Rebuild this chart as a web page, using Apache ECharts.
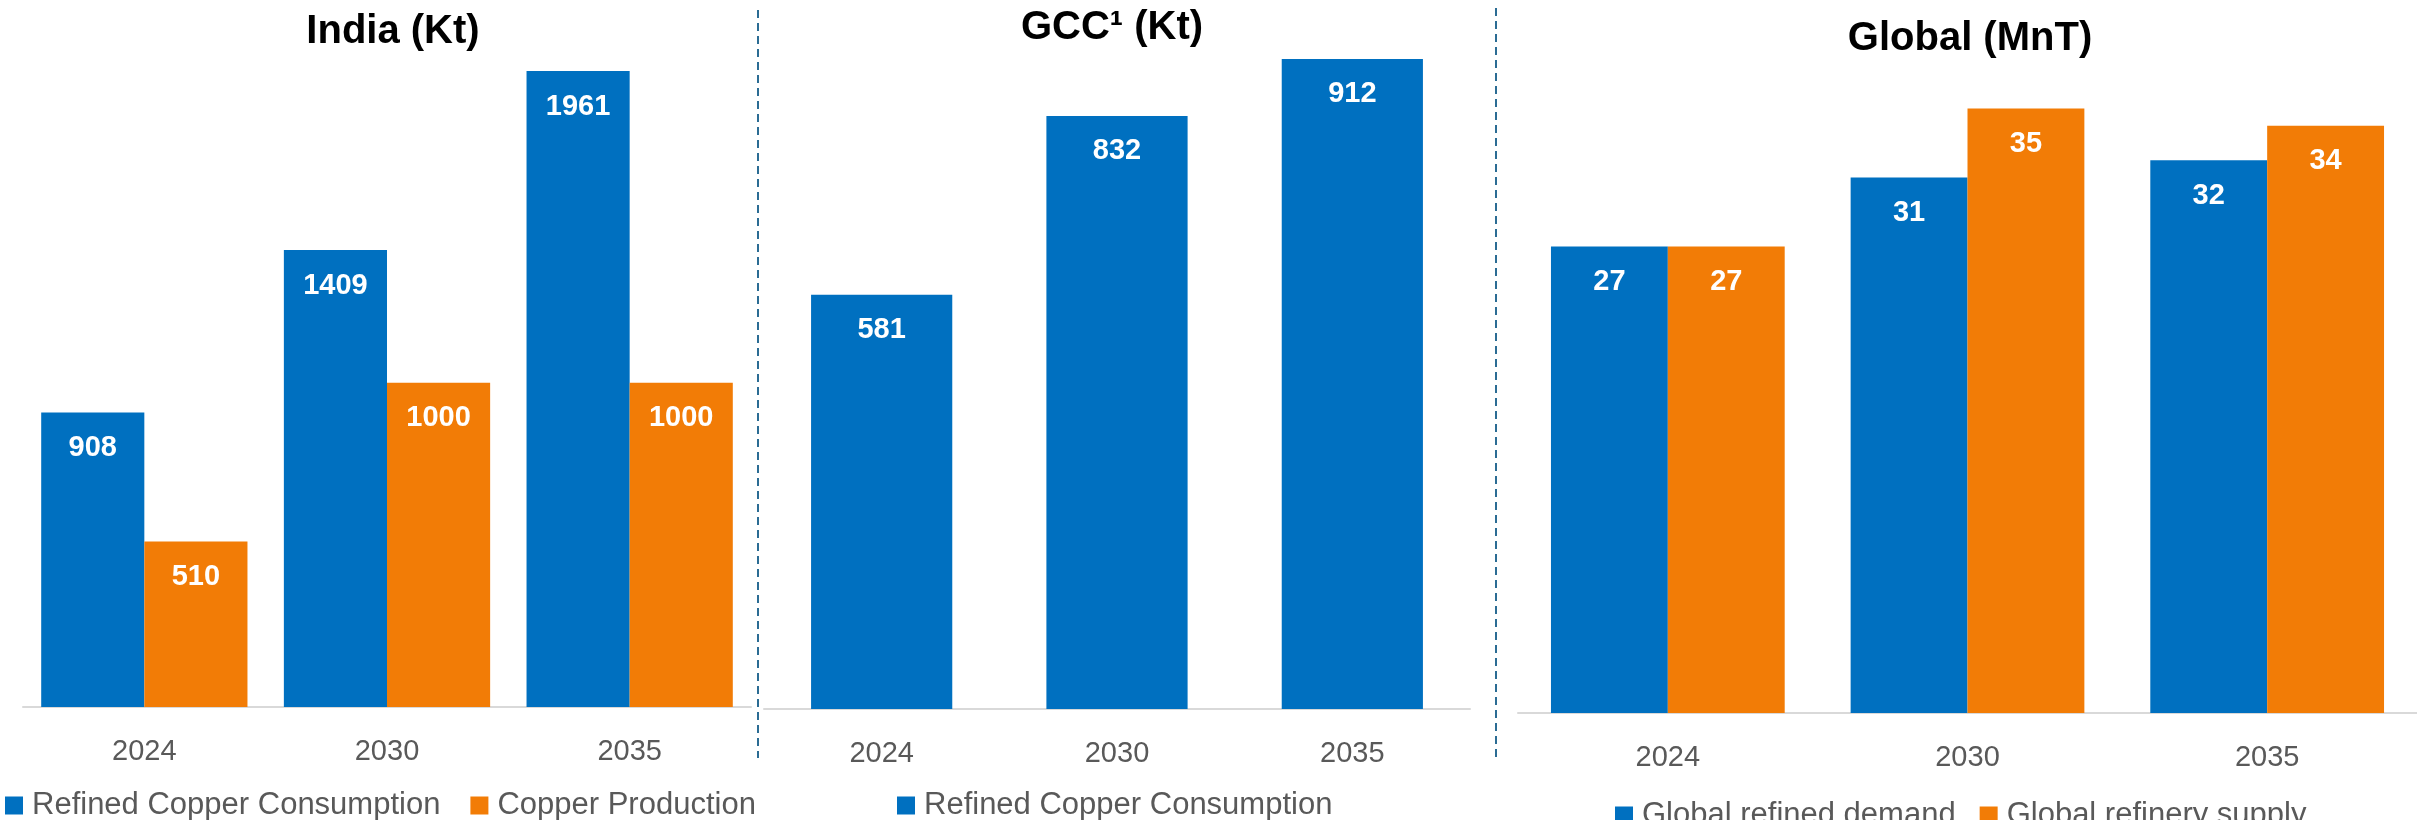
<!DOCTYPE html>
<html>
<head>
<meta charset="utf-8">
<title>Copper demand and supply outlook</title>
<script src="https://cdn.jsdelivr.net/npm/echarts@6/dist/echarts.min.js"></script>
<style>
  html, body { margin: 0; padding: 0; background: #ffffff; }
  #chart { width: 2417px; height: 820px; }
</style>
</head>
<body>
<div id="chart"></div>
<script>
// Years shown on every panel
const years = ['2024', '2030', '2035'];

// India (Kt)
const indiaConsumption = [908, 1409, 1961];
const indiaProduction = [510, 1000, 1000];

// GCC (Kt)
const gccConsumption = [581, 832, 912];

// Global (MnT)
const globalDemand = [27, 31, 32];
const globalSupply = [27, 35, 34];

const BLUE = '#0070C0';
const ORANGE = '#F27C06';
const GREY_TEXT = '#595959';
const FONT = '"Liberation Sans", Arial, sans-serif';

const valueLabel = {
  show: true,
  position: 'insideTop',
  distance: 21,
  color: '#ffffff',
  fontFamily: FONT,
  fontWeight: 'bold',
  fontSize: 29
};

function categoryAxis(gridIndex, margin) {
  return {
    type: 'category',
    gridIndex: gridIndex,
    data: years,
    axisTick: { show: false },
    axisLine: { show: true, lineStyle: { color: '#D9D9D9', width: 2 } },
    axisLabel: { color: GREY_TEXT, fontFamily: FONT, fontSize: 29, margin: margin }
  };
}

function valueAxis(gridIndex, max) {
  return {
    type: 'value',
    gridIndex: gridIndex,
    min: 0,
    max: max,
    show: false,
    splitLine: { show: false }
  };
}

function legend(items, left, top, gap) {
  return {
    data: items,
    left: left,
    top: top,
    padding: 0,
    itemGap: gap,
    icon: 'rect',
    itemWidth: 18,
    itemHeight: 18,
    textStyle: { color: GREY_TEXT, fontFamily: FONT, fontSize: 31, padding: [0, 0, 0, 4] }
  };
}

function titleAt(text, centerX, top) {
  return {
    text: text,
    left: centerX,
    top: top,
    textAlign: 'center',
    padding: 0,
    textStyle: { fontFamily: FONT, fontWeight: 'bold', fontSize: 40, color: '#000000' }
  };
}

const option = {
  animation: false,
  backgroundColor: '#ffffff',
  title: [
    titleAt('India (Kt)', 393, 12),
    titleAt('GCC\u00B9 (Kt)', 1112, 8),
    titleAt('Global (MnT)', 1970, 19)
  ],
  legend: [
    legend(['Refined Copper Consumption', 'Copper Production'], 5, 790, 30),
    legend(['Refined Copper Consumption'], 897, 790, 30),
    legend(['Global refined demand', 'Global refinery supply'], 1615, 800, 24)
  ],
  grid: [
    { left: 23, right: 1666, top: 58.4, bottom: 113 },
    { left: 764, right: 947, top: 31.8, bottom: 111 },
    { left: 1518, right: 0, top: 22, bottom: 107 }
  ],
  xAxis: [
    categoryAxis(0, 30),
    categoryAxis(1, 30),
    categoryAxis(2, 30)
  ],
  yAxis: [
    valueAxis(0, 2000),
    valueAxis(1, 950),
    valueAxis(2, 40)
  ],
  graphic: [
    {
      type: 'line',
      shape: { x1: 758, y1: 10, x2: 758, y2: 758 },
      style: { stroke: '#2B6C94', lineWidth: 2, lineDash: [8, 5] }
    },
    {
      type: 'line',
      shape: { x1: 1496, y1: 8, x2: 1496, y2: 758 },
      style: { stroke: '#2B6C94', lineWidth: 2, lineDash: [8, 5] }
    }
  ],
  series: [
    {
      name: 'Refined Copper Consumption',
      type: 'bar',
      xAxisIndex: 0, yAxisIndex: 0,
      data: indiaConsumption,
      barGap: '0%',
      barCategoryGap: '15%',
      itemStyle: { color: BLUE },
      label: valueLabel
    },
    {
      name: 'Copper Production',
      type: 'bar',
      xAxisIndex: 0, yAxisIndex: 0,
      data: indiaProduction,
      barGap: '0%',
      barCategoryGap: '15%',
      itemStyle: { color: ORANGE },
      label: valueLabel
    },
    {
      name: 'Refined Copper Consumption',
      type: 'bar',
      xAxisIndex: 1, yAxisIndex: 1,
      data: gccConsumption,
      barCategoryGap: '40%',
      itemStyle: { color: BLUE },
      label: valueLabel
    },
    {
      name: 'Global refined demand',
      type: 'bar',
      xAxisIndex: 2, yAxisIndex: 2,
      data: globalDemand,
      barGap: '0%',
      barCategoryGap: '22%',
      itemStyle: { color: BLUE },
      label: valueLabel
    },
    {
      name: 'Global refinery supply',
      type: 'bar',
      xAxisIndex: 2, yAxisIndex: 2,
      data: globalSupply,
      barGap: '0%',
      barCategoryGap: '22%',
      itemStyle: { color: ORANGE },
      label: valueLabel
    }
  ]
};

const chart = echarts.init(document.getElementById('chart'), null, { renderer: 'canvas' });
chart.setOption(option);
</script>
</body>
</html>
